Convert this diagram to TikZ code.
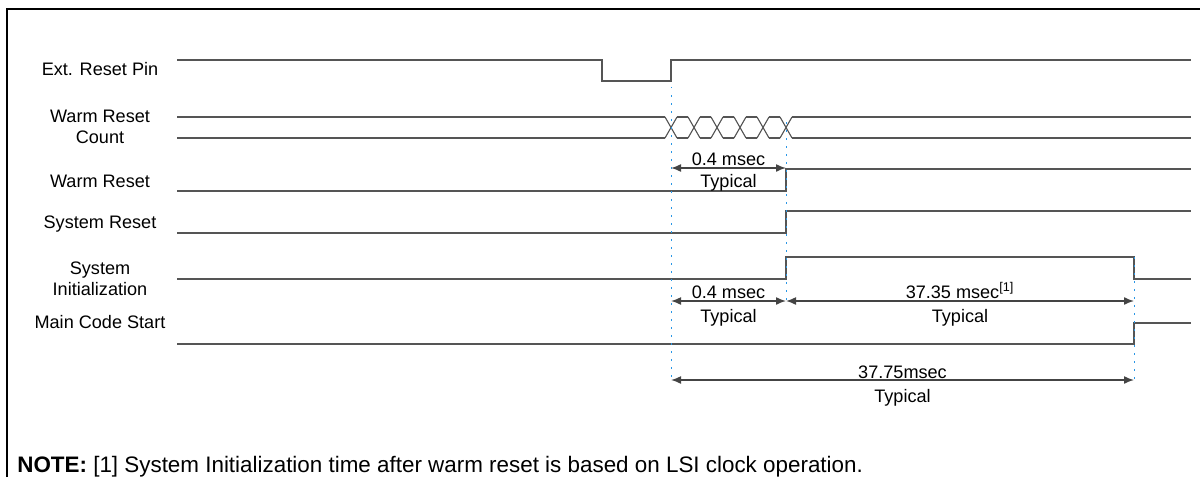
\documentclass[tikz,border=0pt]{standalone}
\usepackage{fontspec}
\setmainfont{Liberation Sans}
\usetikzlibrary{arrows.meta}
\definecolor{wavegray}{RGB}{85,85,85}
\definecolor{dimgray}{RGB}{68,68,68}
\definecolor{markblue}{RGB}{40,150,230}
\tikzset{
	wave/.style={wavegray, line width=0.32mm},
	busline/.style={wavegray, line width=0.22mm},
	marker/.style={markblue, line width=0.2mm, dash pattern=on 0.3mm off 1.3mm},
	dimline/.style={dimgray, line width=0.3mm, {Latex[length=2mm,width=1.6mm]}-{Latex[length=2mm,width=1.6mm]}},
	siglabel/.style={align=center, inner sep=0pt, font=\fontsize{10.3}{11.9}\selectfont},
	dimtext/.style={anchor=base, inner sep=0pt, font=\fontsize{10.3}{12}\selectfont}
}

\begin{document}
\begin{tikzpicture}[x=0.2mm, y=-0.2mm]
			\useasboundingbox (0,0) rectangle (1200,477);
			% frame
			\draw[black, line width=0.45mm] (7,477) -- (7,9) -- (1200,9);
			
			% signal names
			\node[siglabel, anchor=base] (extname) at (100,75) {Ext. Reset Pin};
			\node[siglabel] (countname) at (100,126.5) {Warm Reset\\Count};
			\node[siglabel, anchor=base] (warmname) at (100,187) {Warm Reset};
			\node[siglabel, anchor=base] (sysname) at (100,228) {System Reset};
			\node[siglabel] (initname) at (100,278.5) {System\\Initialization};
			\node[siglabel, anchor=base] (mainname) at (100,328) {Main Code Start};
			
			% waveforms
			\draw[wave] (177,60) -- (602,60) -- (602,81) -- (671,81) -- (671,60) -- (1191,60);
			\draw[busline] (177,117) -- (665,117);
			\draw[busline] (177,138) -- (665,138);
			\foreach \c in {671,694,717,740,763,786}{
				\draw[busline] (\c-6,117) -- (\c+6,138);
				\draw[busline] (\c-6,138) -- (\c+6,117);
			}
			\foreach \c in {671,694,717,740,763}{
				\draw[busline] (\c+6,117) -- (\c+17,117);
				\draw[busline] (\c+6,138) -- (\c+17,138);
			}
			\draw[busline] (792,117) -- (1191,117);
			\draw[busline] (792,138) -- (1191,138);
			\draw[wave] (177,191) -- (786,191) -- (786,169) -- (1191,169);
			\draw[wave] (177,233) -- (786,233) -- (786,211) -- (1191,211);
			\draw[wave] (177,279) -- (786,279) -- (786,257) -- (1134,257) -- (1134,279) -- (1191,279);
			\draw[wave] (177,344) -- (1134,344) -- (1134,323) -- (1191,323);
			
			% markers
			\coordinate (rel) at (671,87);
			\coordinate (relend) at (671,382);
			\coordinate (cnt) at (786,122);
			\coordinate (cntend) at (786,303);
			\coordinate (ini) at (1134,257);
			\coordinate (iniend) at (1134,382);
			\draw[marker] (rel) -- (relend);
			\draw[marker] (cnt) -- (cntend);
			\draw[marker] (ini) -- (iniend);
			
			% timings
			\coordinate (wa) at (671,168);
			\coordinate (wb) at (786,168);
			\coordinate (sa) at (671,301);
			\coordinate (sb) at (786,301);
			\coordinate (sc) at (1134,301);
			\coordinate (ta) at (671,380);
			\coordinate (tb) at (1134,380);
			\draw[dimline] (wa) -- (wb);
			\draw[dimline] (sa) -- (sb);
			\draw[dimline] (sb) -- (sc);
			\draw[dimline] (ta) -- (tb);
			
			\node[dimtext] (wt) at (728.5,165) {0.4 msec};
			\node[dimtext] (wty) at (728.5,187) {Typical};
			\node[dimtext] (st) at (728.5,298) {0.4 msec};
			\node[dimtext] (sty) at (728.5,322) {Typical};
			\node[dimtext] (it) at (960,298) {37.35 msec\textsuperscript{[1]}};
			\node[dimtext] (ity) at (960,322) {Typical};
			\node[dimtext] (tt) at (902.5,378) {37.75msec};
			\node[dimtext] (tty) at (902.5,402) {Typical};
			
			% note
			\node[anchor=base west, inner sep=0pt, font=\fontsize{12.75}{14}\selectfont] (note) at (17,472) {\textbf{NOTE:} [1] System Initialization time after warm reset is based on LSI clock operation.};
		\end{tikzpicture}
\end{document}
